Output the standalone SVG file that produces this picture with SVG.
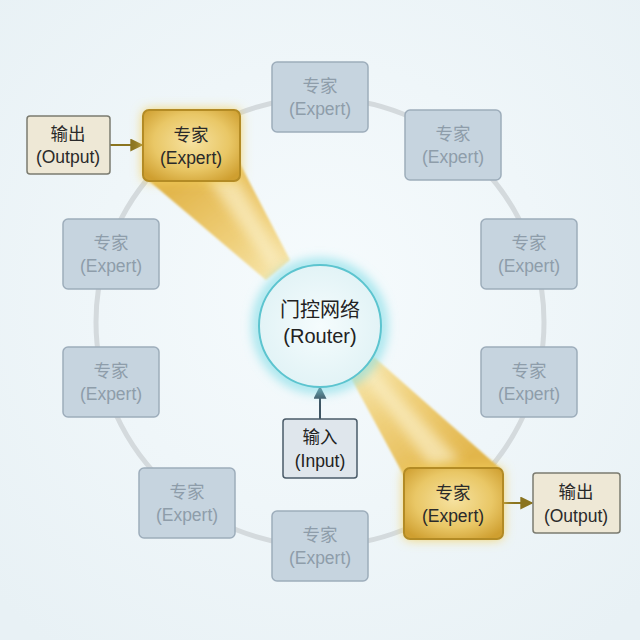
<svg xmlns="http://www.w3.org/2000/svg" width="640" height="640" viewBox="0 0 640 640">
<defs>
<style>
.t{font-family:"Liberation Sans","Noto Sans CJK SC",sans-serif;font-size:17.5px;text-anchor:middle}
.exp rect{fill:#c6d4df;stroke:#9dadbb;stroke-width:1.5}
.exp text{fill:#8e9daa}
.hi rect{fill:url(#gold);stroke:#b38b25;stroke-width:2}
.hi text{fill:#2a2a2a}
.out rect{fill:#eee8d6;stroke:#7b7b70;stroke-width:1.5}
.out text{fill:#2a2a2a}
</style>
<radialGradient id="bg" cx="50%" cy="45%" r="70%">
<stop offset="0" stop-color="#f6fbfd"/><stop offset="1" stop-color="#e8f1f5"/>
</radialGradient>
<radialGradient id="gold" cx="50%" cy="45%" r="65%">
<stop offset="0" stop-color="#f6e2a0"/><stop offset="0.6" stop-color="#e9c766"/><stop offset="1" stop-color="#cf9f30"/>
</radialGradient>
<radialGradient id="rt" cx="50%" cy="50%" r="50%">
<stop offset="0" stop-color="#f5fcfd"/><stop offset="1" stop-color="#e2f3f6"/>
</radialGradient>
<linearGradient id="b1" gradientUnits="userSpaceOnUse" x1="200" y1="168" x2="278" y2="272">
<stop offset="0" stop-color="#e2b64c"/><stop offset="0.6" stop-color="#efcf7a"/><stop offset="1" stop-color="#f6e4a8"/>
</linearGradient>
<linearGradient id="b2" gradientUnits="userSpaceOnUse" x1="452" y1="472" x2="362" y2="368">
<stop offset="0" stop-color="#e2b64c"/><stop offset="0.6" stop-color="#efcf7a"/><stop offset="1" stop-color="#f6e4a8"/>
</linearGradient>
<filter id="glow" x="-30%" y="-30%" width="160%" height="160%">
<feGaussianBlur stdDeviation="6"/>
</filter>
<filter id="soft" x="-10%" y="-10%" width="120%" height="120%">
<feGaussianBlur stdDeviation="1.2"/>
</filter>
<filter id="streak" x="-30%" y="-30%" width="160%" height="160%">
<feGaussianBlur stdDeviation="6"/>
</filter>
<marker id="ag" viewBox="0 0 10 10" refX="9" refY="5" markerWidth="13" markerHeight="13" markerUnits="userSpaceOnUse" orient="auto">
<path d="M0,0L10,5L0,10z" fill="#8a7420"/>
</marker>
<marker id="ab" viewBox="0 0 10 10" refX="9" refY="5" markerWidth="13" markerHeight="13" markerUnits="userSpaceOnUse" orient="auto">
<path d="M0,0L10,5L0,10z" fill="#3f5563"/>
</marker>
</defs>
<rect width="640" height="640" fill="url(#bg)"/>
<circle cx="320" cy="322" r="224" fill="none" stroke="#d4dadd" stroke-width="5"/>
<g id="beams">
<polygon points="148,180 238,160 290,260 266,280" fill="url(#b1)" filter="url(#soft)"/>
<polygon points="205,175 232,168 282,262 272,270" fill="#fbf0c8" opacity="0.7" filter="url(#streak)"/>
<polygon points="351,378 374,357 502,470 404,476" fill="url(#b2)" filter="url(#soft)"/>
<polygon points="360,372 368,364 460,460 430,466" fill="#fbf0c8" opacity="0.7" filter="url(#streak)"/>
</g>
<g id="connectors" stroke-width="2" fill="none">
<line x1="110" y1="145" x2="142" y2="145" stroke="#8a7420" marker-end="url(#ag)"/>
<line x1="503" y1="503" x2="532" y2="503" stroke="#8a7420" marker-end="url(#ag)"/>
<line x1="320" y1="419" x2="320" y2="387" stroke="#3f5563" marker-end="url(#ab)"/>
</g>
<g id="router">
<circle cx="320" cy="326" r="62" fill="none" stroke="#7fdce6" stroke-width="8" filter="url(#glow)"/>
<circle cx="320" cy="326" r="61" fill="url(#rt)" stroke="#5cc4cf" stroke-width="2"/>
<text class="t" x="320" y="317" fill="#222" style="font-size:20px">门控网络</text>
<text class="t" x="320" y="343" style="font-size:20px" fill="#222">(Router)</text>
</g>
<g id="input">
<rect x="283" y="419" width="74" height="59" rx="3" fill="#dfe6ec" stroke="#4a5b68" stroke-width="1.5"/>
<text class="t" x="320" y="443" fill="#222">输入</text>
<text class="t" x="320" y="467" fill="#222">(Input)</text>
</g>
<g id="e1" class="exp"><rect x="272" y="62" width="96" height="70" rx="5"/><text class="t" x="320" y="92">专家</text><text class="t" x="320" y="115">(Expert)</text></g>
<g id="e2" class="exp"><rect x="405" y="110" width="96" height="70" rx="5"/><text class="t" x="453" y="140">专家</text><text class="t" x="453" y="163">(Expert)</text></g>
<g id="e3" class="exp"><rect x="481" y="219" width="96" height="70" rx="5"/><text class="t" x="529" y="249">专家</text><text class="t" x="529" y="272">(Expert)</text></g>
<g id="e4" class="exp"><rect x="481" y="347" width="96" height="70" rx="5"/><text class="t" x="529" y="377">专家</text><text class="t" x="529" y="400">(Expert)</text></g>
<g id="e6" class="exp"><rect x="272" y="511" width="96" height="70" rx="5"/><text class="t" x="320" y="541">专家</text><text class="t" x="320" y="564">(Expert)</text></g>
<g id="e7" class="exp"><rect x="139" y="468" width="96" height="70" rx="5"/><text class="t" x="187" y="498">专家</text><text class="t" x="187" y="521">(Expert)</text></g>
<g id="e8" class="exp"><rect x="63" y="347" width="96" height="70" rx="5"/><text class="t" x="111" y="377">专家</text><text class="t" x="111" y="400">(Expert)</text></g>
<g id="e9" class="exp"><rect x="63" y="219" width="96" height="70" rx="5"/><text class="t" x="111" y="249">专家</text><text class="t" x="111" y="272">(Expert)</text></g>
<g id="e10" class="hi">
<rect x="143" y="110" width="97" height="71" rx="6" filter="url(#glow)" style="fill:#f3cf5a;stroke:none"/>
<rect x="143" y="110" width="97" height="71" rx="6"/>
<text class="t" x="191" y="141">专家</text><text class="t" x="191" y="164">(Expert)</text></g>
<g id="e5" class="hi">
<rect x="404" y="468" width="99" height="71" rx="6" filter="url(#glow)" style="fill:#f3cf5a;stroke:none"/>
<rect x="404" y="468" width="99" height="71" rx="6"/>
<text class="t" x="453" y="499">专家</text><text class="t" x="453" y="522">(Expert)</text></g>
<g id="o1" class="out"><rect x="27" y="116" width="83" height="58" rx="3"/><text class="t" x="68" y="140">输出</text><text class="t" x="68" y="163">(Output)</text></g>
<g id="o2" class="out"><rect x="533" y="473" width="87" height="60" rx="3"/><text class="t" x="576" y="498">输出</text><text class="t" x="576" y="522">(Output)</text></g>
</svg>
